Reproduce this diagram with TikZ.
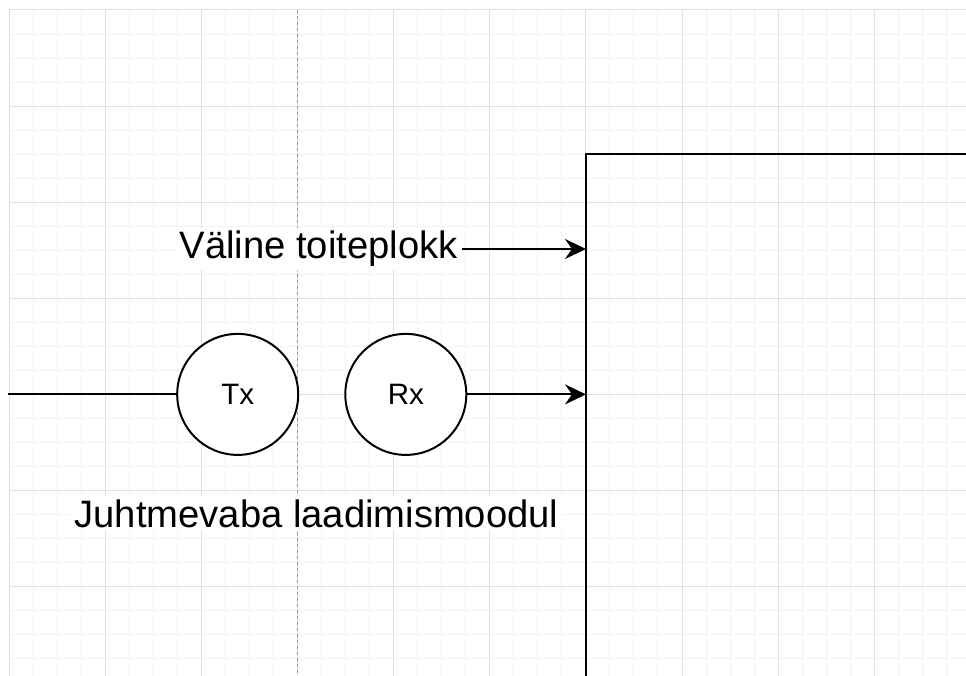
\documentclass[tikz,border=0pt]{standalone}
\usepackage{fontspec}
\setmainfont{Liberation Sans}
\usetikzlibrary{arrows.meta}

\definecolor{gridminor}{HTML}{F3F3F3}
\definecolor{gridmajor}{HTML}{E0E0E0}
\definecolor{guide}{HTML}{9A9A9A}

\tikzset{
  wire/.style={line width=2pt, draw=black},
  arr/.style={wire, -{Stealth[length=21pt, width=20pt, inset=7pt]}},
  coil/.style={circle, draw=black, line width=2pt, fill=white,
    minimum size=121pt, inner sep=0pt,
    font=\fontsize{29.5}{35}\selectfont},
  caption/.style={fill=white, inner xsep=4pt, inner ysep=3pt,
    font=\fontsize{38.2}{45}\selectfont},
  blockbox/.style={draw=black, line width=2pt, outer sep=0pt, inner sep=0pt},
}

\begin{document}
\begin{tikzpicture}[x=1pt, y=-1pt]
  \useasboundingbox (0,0) rectangle (966,676);
  \clip (0,0) rectangle (966,676);

  % background grid: minor and major lines
  \foreach \i in {0,...,40}
    \draw[gridminor, line width=1pt] (9.3+\i*24.025,10) -- (9.3+\i*24.025,680);
  \foreach \i in {0,...,28}
    \draw[gridminor, line width=1pt] (9.3,10+\i*24.025) -- (970,10+\i*24.025);
  \foreach \i in {0,...,10}
    \draw[gridmajor, line width=1pt] (9.3+\i*96.1,10) -- (9.3+\i*96.1,680);
  \foreach \i in {0,...,7}
    \draw[gridmajor, line width=1pt] (9.3,10+\i*96.1) -- (970,10+\i*96.1);

  % dashed boundary between transmitter and receiver side
  \coordinate (gtop) at (297.6,10);
  \coordinate (gbot) at (297.6,680);
  \draw[guide, line width=1pt, dash pattern=on 3pt off 3pt] (gtop) -- (gbot);

  % device block, running past the right and bottom edges
  \node[blockbox, anchor=north west, minimum width=500pt, minimum height=600pt]
    (blk) at (586,154.2) {};

  % transmitter and receiver coils
  \node[coil] (tx) at (237.7,394.4) {Tx};
  \node[coil] (rx) at (405.8,394.4) {Rx};

  % labels
  \node[caption, anchor=east] (psu) at (462,249) {Väline toiteplokk};
  \node[caption, anchor=base] (mod) at (316.5,527) {Juhtmevaba laadimismoodul};

  % connections
  \coordinate (src) at (8,394.4);
  \draw[wire] (src) -- (tx.west);
  \draw[arr] (psu.east) -- (psu.east -| blk.west);
  \draw[arr] (rx.east) -- (rx.east -| blk.west);
\end{tikzpicture}
\end{document}
